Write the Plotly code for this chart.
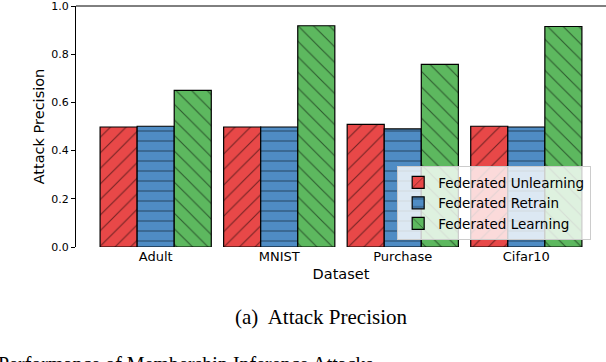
import plotly.graph_objects as go

# данные
datasets = ["Adult", "MNIST", "Purchase", "Cifar10"]
unlearning = [0.498, 0.498, 0.509, 0.501]
retrain = [0.501, 0.498, 0.490, 0.498]
learning = [0.650, 0.918, 0.758, 0.915]

series = [
    ("Federated Unlearning", unlearning, "#E84848", "/", 11),
    ("Federated Retrain", retrain, "#4F8CC4", "-", 10),
    ("Federated Learning", learning, "#5DB85F", "\\", 11),
]

fig = go.Figure()
for name, vals, color, shape, size in series:
    fig.add_trace(go.Bar(
        x=datasets,
        y=vals,
        name=name,
        marker=dict(
            color=color,
            line=dict(color="black", width=1.2),
            pattern=dict(shape=shape, fgcolor="black", size=size, solidity=0.1),
        ),
    ))

fig.update_layout(
    width=606,
    height=362,
    margin=dict(l=76, r=0, t=4, b=115),
    barmode="group",
    bargap=0.1,
    bargroupgap=0,
    plot_bgcolor="white",
    paper_bgcolor="white",
    font=dict(family="DejaVu Sans", size=11, color="black"),
    showlegend=True,
    legend=dict(
        x=0.606, y=0.029, xanchor="left", yanchor="bottom",
        bgcolor="rgba(255,255,255,0.8)",
        bordercolor="#cccccc", borderwidth=1,
        font=dict(size=13.5),
        tracegroupgap=0,
        itemwidth=30,
    ),
)

fig.update_xaxes(
    range=[-0.645, 3.645],
    showline=False,
    ticks="",
    tickfont=dict(size=13),
    title=dict(text="Dataset", font=dict(size=14.5), standoff=5),
)
fig.update_yaxes(
    range=[0, 1.0],
    tickvals=[0, 0.2, 0.4, 0.6, 0.8, 1.0],
    ticktext=["0.0", "0.2", "0.4", "0.6", "0.8", "1.0"],
    ticks="outside", ticklen=4, tickcolor="black",
    tickfont=dict(size=11),
    ticklabeloverflow="allow",
    showline=True, linecolor="black", linewidth=1,
    showgrid=False, zeroline=False,
    title=dict(text="Attack Precision", font=dict(size=14.5), standoff=3),
)

# верхняя рамка графика
fig.add_shape(type="line", xref="paper", yref="paper", x0=0, x1=1, y0=1, y1=1,
              line=dict(color="black", width=1))

# подпись рисунка
fig.add_annotation(text="(a)  Attack Precision", xref="paper", yref="paper",
                   x=0.463, y=-0.29, xanchor="center", yanchor="middle",
                   showarrow=False,
                   font=dict(family="Liberation Serif", size=21, color="black"))
fig.add_annotation(text="Performance of Membership Inference Attacks", xref="paper", yref="paper",
                   x=-0.151, y=-0.43, xanchor="left", yanchor="top",
                   showarrow=False,
                   font=dict(family="Liberation Serif", size=20, color="black"))

fig.write_html("out.html", config={"displayModeBar": False},
               post_script="document.body.style.margin='0px';")
